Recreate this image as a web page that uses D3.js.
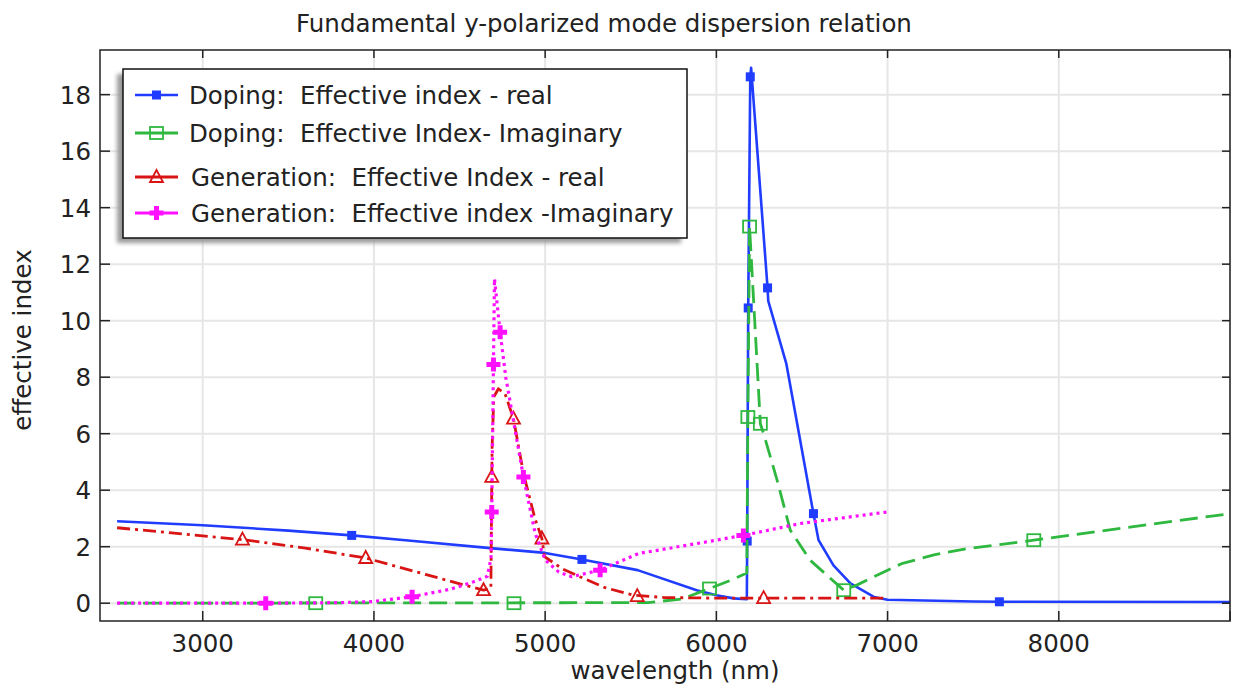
<!DOCTYPE html>
<html><head><meta charset="utf-8">
<script src="https://cdn.jsdelivr.net/npm/d3@7"></script>
<style>
body{margin:0;background:#fff;}
svg{font-family:"DejaVu Sans",sans-serif;}
text{white-space:pre;}
</style>
</head><body>
<svg id="chart" width="1238" height="685"></svg>
<script>
// ---------- data ----------
const titleText = "Fundamental y-polarized mode dispersion relation";
const xLabel = "wavelength (nm)";
const yLabel = "effective index";
const xTicks = [3000, 4000, 5000, 6000, 7000, 8000, 9000];
const xTickLabels = ["3000", "4000", "5000", "6000", "7000", "8000", ""];
const yTicks = [0, 2, 4, 6, 8, 10, 12, 14, 16, 18];
const seriesNames = [
  "Doping:  Effective index - real",
  "Doping:  Effective Index- Imaginary",
  "Generation:  Effective Index - real",
  "Generation:  Effective index -Imaginary"
];

// Doping: effective index - real  [wavelength, value]
const dopingReal = [
  [2500,2.90],[3000,2.76],[3500,2.57],[3870,2.40],[4200,2.22],[4680,1.95],
  [5000,1.78],[5215,1.55],[5540,1.17],[5885,0.46],[6000,0.28],[6100,0.17],
  [6178,0.14],[6180,2.2],[6186,10.45],[6198,18.63],[6203,18.95],[6299,11.16],
  [6303,10.7],[6409,8.47],[6567,3.17],[6597,2.23],[6684,1.34],[6783,0.70],
  [6920,0.22],[7000,0.12],[7500,0.06],[7653,0.05],[9000,0.04]
];
const dopingRealMarks = [
  [3870,2.40],[5215,1.55],[6180,2.2],[6186,10.45],[6198,18.63],[6299,11.16],
  [6567,3.17],[7653,0.05]
];

// Doping: effective index - imaginary
const dopingImag = [
  [2500,0.0],[5600,0.02],[5800,0.15],[5960,0.52],[6100,0.85],[6178,1.07],
  [6184,6.59],[6194,13.33],[6204,12.2],[6257,6.35],[6276,6.0],[6355,4.35],
  [6432,2.58],[6548,1.52],[6744,0.46],[6820,0.64],[7000,1.17],[7082,1.40],
  [7277,1.72],[7462,1.93],[7854,2.23],[8400,2.68],[9000,3.17]
];
const dopingImagMarks = [
  [3660,0.0],[4818,0.0],[5960,0.52],[6184,6.59],[6194,13.33],[6257,6.35],
  [6744,0.46],[7854,2.23]
];

// Generation: effective index - real
const genReal = [
  [2500,2.67],[3232,2.25],[3600,1.95],[3952,1.60],[4300,1.02],[4640,0.46],
  [4683,0.52],[4690,5.5],[4700,7.3],[4727,7.59],[4766,7.41],[4815,6.53],
  [4873,4.6],[4940,3.0],[4981,2.29],[4996,1.65],[5100,1.22],[5205,0.93],
  [5350,0.55],[5518,0.28],[5700,0.2],[6000,0.18],[7000,0.18]
];
const genRealMarks = [
  [3232,2.25],[3952,1.60],[4640,0.46],[4688,4.47],[4815,6.53],[4981,2.29],
  [5538,0.25],[6276,0.18]
];

// Generation: effective index - imaginary
const genImag = [
  [2500,0.0],[3368,0.0],[3800,0.02],[3994,0.06],[4223,0.23],[4450,0.5],
  [4579,0.75],[4662,0.95],[4684,1.6],[4688,3.23],[4698,8.45],[4704,11.48],
  [4737,9.59],[4770,8.0],[4805,6.8],[4873,4.47],[4942,2.47],[5000,1.53],
  [5080,1.1],[5156,0.94],[5321,1.17],[5546,1.76],[5885,2.11],[6158,2.40],
  [6490,2.82],[7000,3.23]
];
const genImagMarks = [
  [3368,0.0],[4223,0.23],[4688,3.23],[4698,8.45],[4737,9.59],[4873,4.47],
  [5321,1.17],[6158,2.40]
];

// ---------- drawing ----------
const svg = d3.select("#chart");
const L = 100, R = 1230, T = 50, B = 621;
const x = d3.scaleLinear().domain([2400, 9000]).range([L, R]);
const y = d3.scaleLinear().domain([-0.63, 19.58]).range([B, T]);
const FS = 24.5;

const grid = svg.append("g");
grid.selectAll("line.vx").data(xTicks).join("line")
  .attr("x1", d => x(d)).attr("x2", d => x(d)).attr("y1", T).attr("y2", B)
  .attr("stroke", "#e6e6e6").attr("stroke-width", 2);
grid.selectAll("line.hy").data(yTicks).join("line")
  .attr("x1", L).attr("x2", R).attr("y1", d => y(d)).attr("y2", d => y(d))
  .attr("stroke", "#e6e6e6").attr("stroke-width", 2);

const plot = svg.append("g");
const line = d3.line().x(d => x(d[0])).y(d => y(d[1]));

const styles = [
  {data: dopingReal, marks: dopingRealMarks, color: "#1f3cff", dash: null, w: 2.6, mk: "fsquare"},
  {data: dopingImag, marks: dopingImagMarks, color: "#2fb83f", dash: "18,8", w: 2.8, mk: "osquare"},
  {data: genReal, marks: genRealMarks, color: "#d81414", dash: "13,5,3,5", w: 2.8, mk: "triangle"},
  {data: genImag, marks: genImagMarks, color: "#ff10ff", dash: "3,4", w: 3.2, mk: "plus"}
];

function drawMarker(g, kind, color, cx, cy) {
  if (kind === "fsquare") {
    g.append("rect").attr("x", cx-4.5).attr("y", cy-4.5).attr("width", 9).attr("height", 9)
      .attr("fill", color);
  } else if (kind === "osquare") {
    g.append("rect").attr("x", cx-6.5).attr("y", cy-6).attr("width", 13).attr("height", 12)
      .attr("fill", "none").attr("stroke", color).attr("stroke-width", 1.8);
  } else if (kind === "triangle") {
    g.append("path").attr("d", `M${cx},${cy-7}L${cx+6.5},${cy+5}L${cx-6.5},${cy+5}Z`)
      .attr("fill", "none").attr("stroke", color).attr("stroke-width", 1.8);
  } else if (kind === "plus") {
    g.append("path").attr("d", `M${cx-7},${cy}L${cx+7},${cy}M${cx},${cy-7}L${cx},${cy+7}`)
      .attr("stroke", color).attr("stroke-width", 5);
  }
}

styles.forEach(s => {
  plot.append("path").datum(s.data).attr("d", line)
    .attr("fill", "none").attr("stroke", s.color).attr("stroke-width", s.w)
    .attr("stroke-dasharray", s.dash).attr("stroke-linejoin", "round");
  const mg = plot.append("g");
  s.marks.forEach(m => drawMarker(mg, s.mk, s.color, x(m[0]), y(m[1])));
});

// frame & ticks
const axg = svg.append("g").attr("stroke", "#222").attr("stroke-width", 1.5);
axg.append("rect").attr("x", L).attr("y", T).attr("width", R-L).attr("height", B-T).attr("fill", "none");
xTicks.forEach(t => {
  axg.append("line").attr("x1", x(t)).attr("x2", x(t)).attr("y1", B).attr("y2", B-10);
  axg.append("line").attr("x1", x(t)).attr("x2", x(t)).attr("y1", T).attr("y2", T+8);
});
yTicks.forEach(t => {
  axg.append("line").attr("x1", L).attr("x2", L+10).attr("y1", y(t)).attr("y2", y(t));
  axg.append("line").attr("x1", R).attr("x2", R-8).attr("y1", y(t)).attr("y2", y(t));
});

const tg = svg.append("g").attr("fill", "#222");
xTicks.forEach((t, i) => {
  tg.append("text").attr("x", x(t)).attr("y", 652).attr("text-anchor", "middle")
    .attr("font-size", FS).text(xTickLabels[i]);
});
yTicks.forEach(t => {
  tg.append("text").attr("x", 91).attr("y", y(t) + 9).attr("text-anchor", "end")
    .attr("font-size", FS).text(String(t));
});
tg.append("text").attr("x", 604).attr("y", 32).attr("text-anchor", "middle")
  .attr("font-size", 24.5).text(titleText);
tg.append("text").attr("x", 675).attr("y", 679).attr("text-anchor", "middle")
  .attr("font-size", FS).text(xLabel);
tg.append("text").attr("transform", "translate(31,340) rotate(-90)").attr("text-anchor", "middle")
  .attr("font-size", FS).text(yLabel);

// legend
const defs = svg.append("defs");
defs.append("filter").attr("id", "blur").append("feGaussianBlur").attr("stdDeviation", 2);
const lg = svg.append("g");
const lx = 123, ly = 69, lw = 564, lh = 169;
lg.append("rect").attr("x", lx-6).attr("y", ly+5).attr("width", lw).attr("height", lh)
  .attr("fill", "#9a9a9a").attr("filter", "url(#blur)");
lg.append("rect").attr("x", lx).attr("y", ly).attr("width", lw).attr("height", lh)
  .attr("fill", "#fff").attr("stroke", "#111").attr("stroke-width", 1.5);
const rowsY = [95, 133, 177, 213];
const textX = [189, 189, 191, 191];
styles.forEach((s, i) => {
  const ry = rowsY[i];
  lg.append("line").attr("x1", 135).attr("x2", 178).attr("y1", ry).attr("y2", ry)
    .attr("stroke", s.color).attr("stroke-width", s.w);
  drawMarker(lg, s.mk, s.color, 156.5, ry);
  lg.append("text").attr("x", textX[i]).attr("y", ry + 9).attr("font-size", FS)
    .attr("fill", "#222").text(seriesNames[i]);
});
</script>
</body></html>
